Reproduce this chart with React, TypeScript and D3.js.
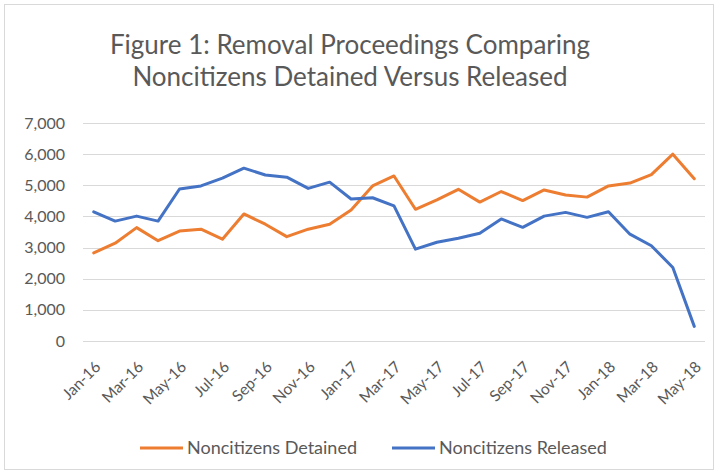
import React, { useRef, useEffect } from 'react';
import * as d3 from 'd3';

// months Jan-16 .. May-18
const months = [
  'Jan-16', 'Feb-16', 'Mar-16', 'Apr-16', 'May-16', 'Jun-16', 'Jul-16', 'Aug-16', 'Sep-16', 'Oct-16', 'Nov-16', 'Dec-16',
  'Jan-17', 'Feb-17', 'Mar-17', 'Apr-17', 'May-17', 'Jun-17', 'Jul-17', 'Aug-17', 'Sep-17', 'Oct-17', 'Nov-17', 'Dec-17',
  'Jan-18', 'Feb-18', 'Mar-18', 'Apr-18', 'May-18',
];
const detained = [
  2830, 3140, 3640, 3220, 3530, 3590, 3270, 4080, 3750, 3350, 3590, 3750,
  4210, 4980, 5300, 4230, 4530, 4870, 4460, 4800, 4510, 4850, 4690, 4620,
  4980, 5070, 5340, 6000, 5210,
];
const released = [
  4150, 3850, 4010, 3850, 4880, 4980, 5230, 5550, 5330, 5260, 4900, 5100,
  4560, 4600, 4340, 2950, 3170, 3300, 3460, 3920, 3650, 4010, 4130, 3970,
  4150, 3430, 3060, 2360, 470,
];
const yTicks = [0, 1000, 2000, 3000, 4000, 5000, 6000, 7000];
const seriesNames = ['Noncitizens Detained', 'Noncitizens Released'];
const seriesColors = ['#ED7D31', '#4472C4'];

const W = 721;
const H = 475;
const FONT = 'Lato, "Open Sans", sans-serif';
const GREY = '#595959';

const App = () => {
  const ref = useRef<SVGSVGElement>(null);

  useEffect(() => {
    const svg = d3.select(ref.current);
    svg.selectAll('*').remove();

    const left = 83, right = 705, top = 123, bottom = 341;

    const x = d3.scalePoint<string>().domain(months).range([left, right]).padding(0.5);
    const y = d3.scaleLinear().domain([0, 7000]).range([bottom, top]);

    // outer frame
    svg.append('rect')
      .attr('x', 4.5).attr('y', 4.5)
      .attr('width', 709).attr('height', 465)
      .attr('fill', '#fff')
      .attr('stroke', '#d9d9d9');

    // title
    const title = svg.append('text')
      .attr('text-anchor', 'middle')
      .attr('font-family', FONT)
      .attr('font-size', 26)
      .attr('fill', GREY);
    title.append('tspan').attr('x', 350).attr('y', 54).text('Figure 1: Removal Proceedings Comparing');
    title.append('tspan').attr('x', 350).attr('y', 86).text('Noncitizens Detained Versus Released');

    // grid + y labels
    svg.append('g')
      .selectAll('line')
      .data(yTicks)
      .join('line')
        .attr('x1', left).attr('x2', right)
        .attr('y1', d => Math.round(y(d)) + 0.5)
        .attr('y2', d => Math.round(y(d)) + 0.5)
        .attr('stroke', '#d9d9d9')
        .attr('stroke-width', 1);

    svg.append('g')
      .selectAll('text')
      .data(yTicks)
      .join('text')
        .attr('x', 65)
        .attr('y', d => y(d))
        .attr('dy', '0.35em')
        .attr('text-anchor', 'end')
        .attr('font-family', FONT)
        .attr('font-size', 16)
        .attr('fill', GREY)
        .text(d => d3.format(',')(d));

    // x labels, every other month
    svg.append('g')
      .selectAll('text')
      .data(months.filter((_, i) => i % 2 === 0))
      .join('text')
        .attr('transform', d => `translate(${(x(d) as number) + 4},${364}) rotate(-45)`)
        .attr('text-anchor', 'end')
        .attr('dy', '0.35em')
        .attr('font-family', FONT)
        .attr('font-size', 15.5)
        .attr('fill', GREY)
        .text(d => d);

    // lines
    const lineGen = d3.line<number>()
      .x((_, i) => x(months[i]) as number)
      .y(d => y(d));

    [detained, released].forEach((vals, si) => {
      svg.append('path')
        .datum(vals)
        .attr('d', lineGen)
        .attr('fill', 'none')
        .attr('stroke', seriesColors[si])
        .attr('stroke-width', 3)
        .attr('stroke-linejoin', 'round')
        .attr('stroke-linecap', 'round');
    });

    // legend
    const legendX = [140, 392];
    const lg = svg.append('g')
      .selectAll('g')
      .data(seriesNames)
      .join('g')
        .attr('transform', (_, i) => `translate(${legendX[i]},448)`);
    lg.append('line')
      .attr('x1', 0).attr('x2', 43)
      .attr('stroke', (_, i) => seriesColors[i])
      .attr('stroke-width', 3);
    lg.append('text')
      .attr('x', 47)
      .attr('dy', '0.35em')
      .attr('font-family', FONT)
      .attr('font-size', 18)
      .attr('fill', GREY)
      .text(d => d);
  }, []);

  return (
    <svg
      ref={ref}
      width={W}
      height={H}
      style={{ position: 'absolute', left: 0, top: 0, background: '#fff' }}
    />
  );
};

export default App;
